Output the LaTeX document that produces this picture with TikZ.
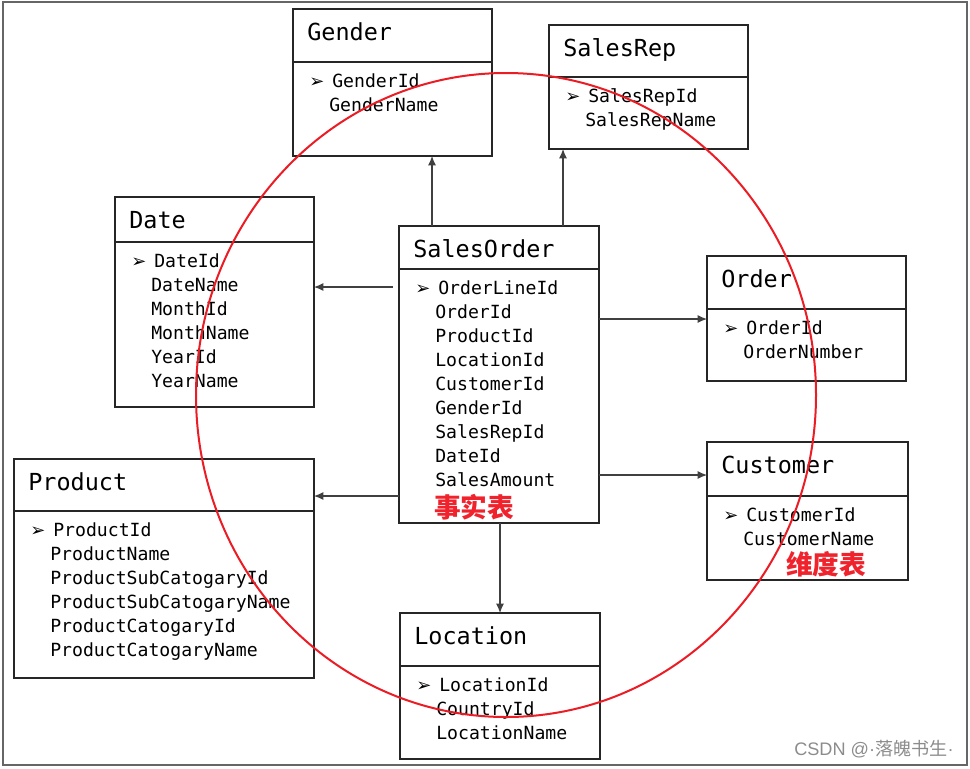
\documentclass[tikz,border=0pt]{standalone}
\usepackage{fontspec}
\setmonofont{DejaVu Sans Mono}
\newfontfamily\symfont{DejaVu Sans}
\newfontfamily\latinsans{Liberation Sans}
\newfontfamily\cjk{Noto Sans CJK SC}
\usepackage{tikz}
\usetikzlibrary{arrows.meta}
\tikzset{>=latex}
\definecolor{circlered}{RGB}{236,28,36}
\definecolor{labelred}{RGB}{240,35,45}
\newdimen\px \px=0.75pt

\tikzset{
  box/.style={draw=black!85, line width=1.4pt, anchor=north west, inner sep=0pt, outer sep=0pt},
  sepline/.style={draw=black!85, line width=1.4pt},
  title/.style={anchor=base west, inner sep=0pt, font=\ttfamily\fontsize{17.6}{20}\selectfont},
  field/.style={anchor=base west, inner sep=0pt, font=\ttfamily\fontsize{13.6}{16}\selectfont},
  fk/.style={draw=black!75, line width=0.8pt, -{Latex[length=7pt,width=6pt]}},
  redtag/.style={text=labelred, inner sep=0pt, font=\cjk\bfseries\fontsize{20}{22}\selectfont},
}

% bullet in front of the key field
\newcommand{\keymark}{\makebox[23\px][l]{\symfont\fontsize{13.5}{14}\selectfont ➢}}

% name, corner, width, height, separator, title, key, other fields
\newcommand{\entity}[8]{%
  \node[box, minimum width=#3\px, minimum height=#4\px] (#1) at (#2) {};
  \draw[sepline] ([yshift={-#5*\px}]#1.north west) -- ([yshift={-#5*\px}]#1.north east);
  \node[title] (#1-title) at ([xshift=14\px, yshift=-31\px]#1.north west) {#6};
  \node[field] (#1-key) at ([xshift=16\px, yshift={-(#5+25)*\px}]#1.north west) {\keymark#7};
  \foreach \f [count=\i] in {#8}
    \node[field] (#1-f\i) at ([xshift=36\px, yshift={-(#5+25+24*\i)*\px}]#1.north west) {\f};
}

\begin{document}
\begin{tikzpicture}[x=0.75pt, y=-0.75pt]
  \useasboundingbox (0,0) rectangle (970,768);
  \draw[black!60, line width=2\px] (3,2) rectangle (967,765); % frame

  % dimension tables
  \entity{gender}{293,9}{199}{147}{53}{Gender}{GenderId}{GenderName}
  \entity{salesrep}{549,25}{199}{124}{52}{SalesRep}{SalesRepId}{SalesRepName}
  \entity{date}{115,197}{199}{210}{45}{Date}{DateId}{DateName,MonthId,MonthName,YearId,YearName}
  \entity{order}{707,256}{199}{125}{53}{Order}{OrderId}{OrderNumber}
  \entity{customer}{707,442}{201}{138}{54}{Customer}{CustomerId}{CustomerName}
  \entity{product}{14,459}{300}{219}{52}{Product}{ProductId}{ProductName,ProductSubCatogaryId,ProductSubCatogaryName,ProductCatogaryId,ProductCatogaryName}
  \entity{location}{400,613}{200}{146}{53}{Location}{LocationId}{CountryId,LocationName}

  % fact table
  \entity{so}{399,226}{200}{297}{43}{SalesOrder}{OrderLineId}{OrderId,ProductId,LocationId,CustomerId,GenderId,SalesRepId,DateId,SalesAmount}

  % references
  \coordinate (so-g) at ([xshift=33\px]so.north west);
  \draw[fk] (so-g) -- (so-g |- gender.south);
  \coordinate (so-r) at ([xshift=164\px]so.north west);
  \draw[fk] (so-r) -- (so-r |- salesrep.south);
  \coordinate (so-d) at ([yshift=-61\px]so.north west);
  \draw[fk, shorten <=6\px] (so-d) -- (so-d -| date.east);
  \coordinate (so-o) at ([yshift=-93\px]so.north east);
  \draw[fk] (so-o) -- (so-o -| order.west);
  \coordinate (so-c) at ([yshift=-249\px]so.north east);
  \draw[fk] (so-c) -- (so-c -| customer.west);
  \coordinate (so-p) at ([yshift=-270\px]so.north west);
  \draw[fk] (so-p) -- (so-p -| product.east);
  \coordinate (so-l) at ([xshift=101\px]so.south west);
  \draw[fk] (so-l) -- (so-l |- location.north);

  % red marks
  \node[redtag] (fact) at (474,507) {事实表};
  \node[redtag] (dim) at (826,564) {维度表};
  \draw[circlered, line width=2\px] (506,395) ellipse [x radius={310*\px}, y radius={322*\px}];

  \node[anchor=base east, inner sep=0pt, text=black!45, font=\fontsize{13.6}{15}\selectfont]
    (mark) at (954,755) {\latinsans CSDN @·\cjk 落魄书生\latinsans ·};
\end{tikzpicture}
\end{document}
